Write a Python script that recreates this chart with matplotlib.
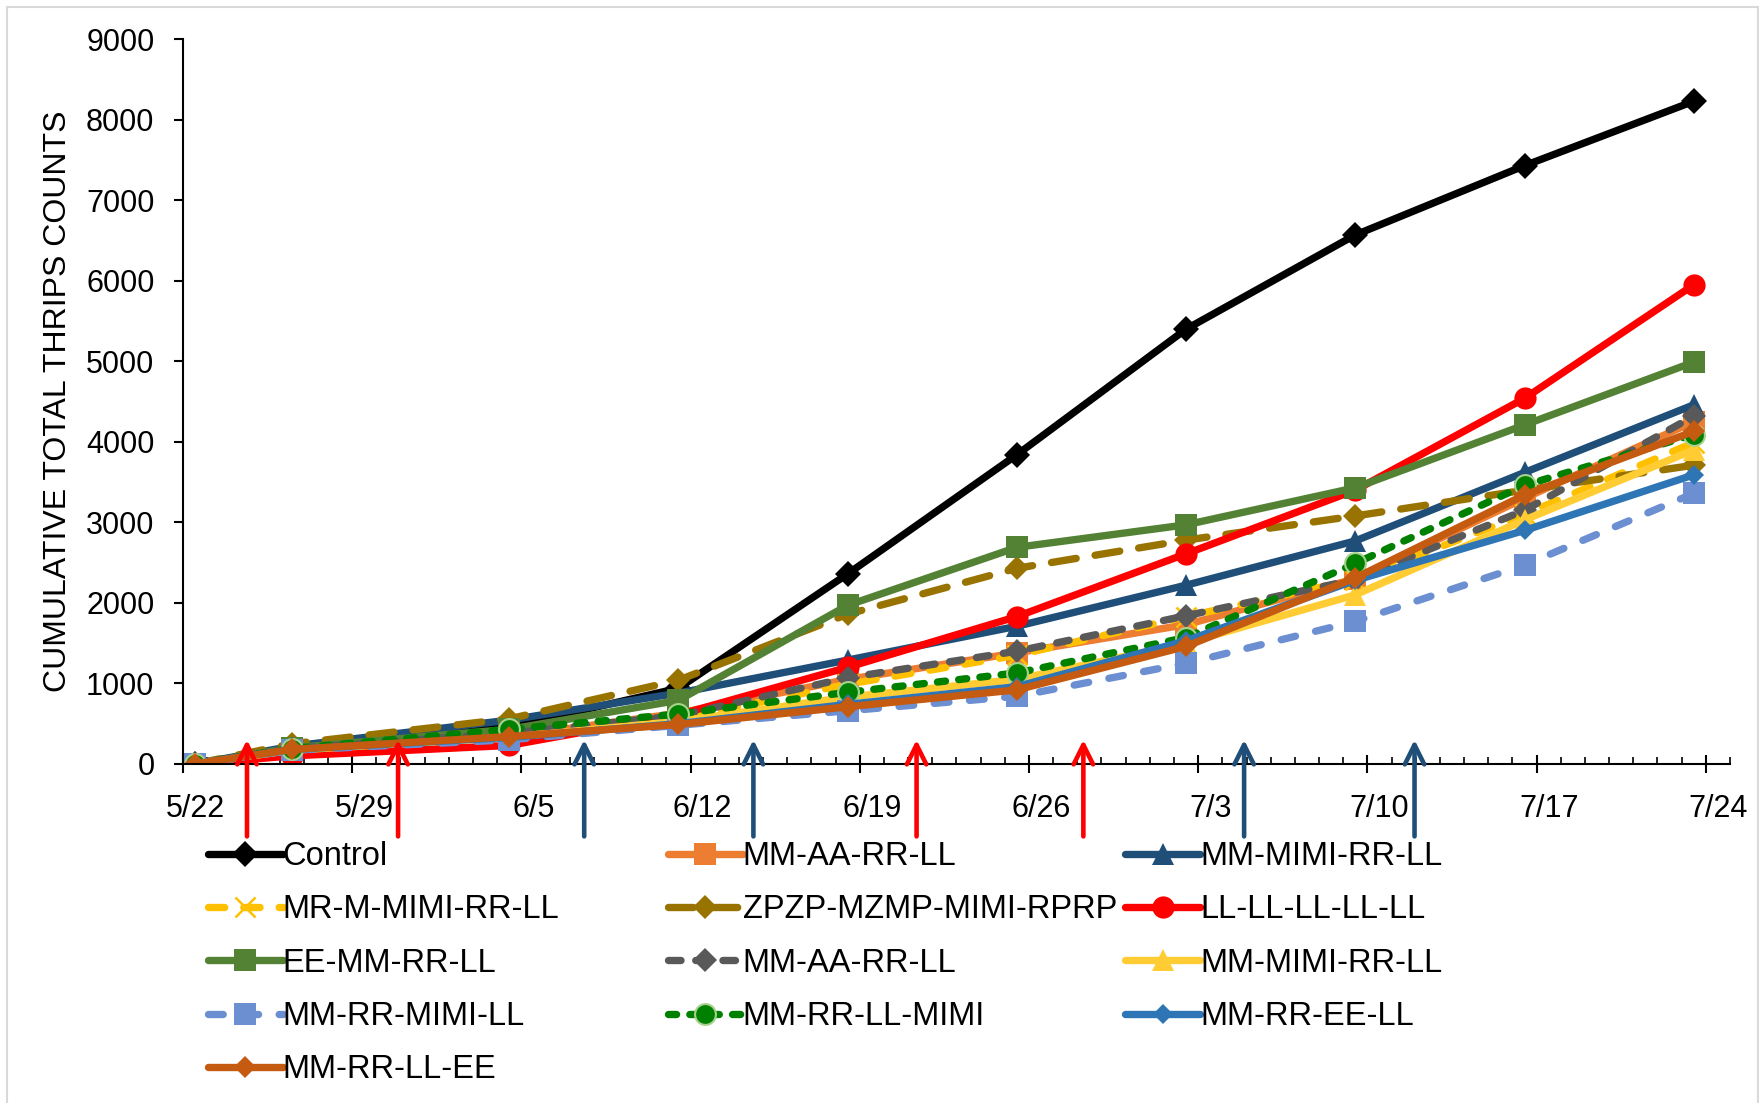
import numpy as np
import matplotlib
matplotlib.use("Agg")
import matplotlib.pyplot as plt
from matplotlib.patches import Rectangle

plt.rcParams['font.family'] = ['Liberation Sans', 'DejaVu Sans']

# sampling days, counted from 5/22 (points sit in the middle of the day slot)
sample_days = [0, 4, 13, 20, 27, 34, 41, 48, 55, 62]

tick_days = [0, 7, 14, 21, 28, 35, 42, 49, 56, 63]
tick_labels = ["5/22", "5/29", "6/5", "6/12", "6/19", "6/26", "7/3", "7/10", "7/17", "7/24"]

names = [
    "Control", "MM-AA-RR-LL", "MM-MIMI-RR-LL",
    "MR-M-MIMI-RR-LL", "ZPZP-MZMP-MIMI-RPRP", "LL-LL-LL-LL-LL",
    "EE-MM-RR-LL", "MM-AA-RR-LL", "MM-MIMI-RR-LL",
    "MM-RR-MIMI-LL", "MM-RR-LL-MIMI", "MM-RR-EE-LL",
    "MM-RR-LL-EE",
]

control = [0, 200, 460, 940, 2360, 3840, 5400, 6570, 7430, 8230]
mm_aa_rr_ll = [0, 180, 340, 630, 1050, 1380, 1730, 2300, 3300, 4250]
mm_mimi_rr_ll = [0, 220, 545, 880, 1290, 1710, 2220, 2770, 3620, 4460]
mr_m_mimi = [0, 170, 300, 560, 990, 1350, 1830, 2290, 3100, 3990]
zpzp = [0, 250, 560, 1040, 1860, 2430, 2780, 3080, 3400, 3710]
ll_all = [0, 100, 230, 610, 1200, 1830, 2610, 3400, 4540, 5950]
ee_mm_rr_ll = [0, 200, 430, 790, 1970, 2690, 2970, 3430, 4210, 4990]
mm_aa_rr_ll_2 = [0, 190, 380, 600, 1070, 1400, 1840, 2290, 3150, 4320]
mm_mimi_rr_ll_2 = [0, 170, 330, 530, 830, 1050, 1500, 2100, 3030, 3900]
mm_rr_mimi_ll = [0, 170, 300, 480, 660, 840, 1250, 1770, 2470, 3360]
mm_rr_ll_mimi = [0, 190, 430, 620, 890, 1130, 1570, 2490, 3460, 4090]
mm_rr_ee_ll = [0, 180, 330, 500, 740, 960, 1530, 2280, 2900, 3590]
mm_rr_ll_ee = [0, 180, 340, 490, 710, 920, 1460, 2310, 3340, 4130]

series = [control, mm_aa_rr_ll, mm_mimi_rr_ll, mr_m_mimi, zpzp, ll_all,
          ee_mm_rr_ll, mm_aa_rr_ll_2, mm_mimi_rr_ll_2, mm_rr_mimi_ll,
          mm_rr_ll_mimi, mm_rr_ee_ll, mm_rr_ll_ee]

# treatment arrows (days from 5/22)
red_arrows = [2.65, 8.9, 30.35, 37.25]
blue_arrows = [16.6, 23.6, 43.9, 50.95]

# color, linestyle, marker, markersize, marker edge color
styles = [
    ("#000000", "-", "D", 13, None),
    ("#ED7D31", "-", "s", 16, None),
    ("#1F4E79", "-", "^", 16, None),
    ("#FFC000", (0, (2.2, 2.6)), "x", 14, None),
    ("#997300", (0, (3.4, 2.6)), "D", 12.5, None),
    ("#FF0000", "-", "o", 16, None),
    ("#548235", "-", "s", 16.5, None),
    ("#595959", (0, (1.7, 2.0)), "D", 12, None),
    ("#FFCD33", "-", "^", 16, None),
    ("#6C8FD2", (0, (2.0, 2.8)), "s", 16, None),
    ("#008000", (0, (1.1, 1.8)), "o", 15, "#A9D18E"),
    ("#2E75B6", "-", "D", 10.5, None),
    ("#C55A11", "-", "D", 11, None),
]

fig = plt.figure(figsize=(17.59, 11.03), dpi=100)
ax = fig.add_axes([0.104, 0.3074, 0.8795, 0.657])

x = np.array(sample_days) + 0.5
handles = []
for name, vals, (col, ls, mk, ms, mec) in zip(names, series, styles):
    kw = dict(color=col, lw=5.3, marker=mk, markersize=ms, label=name,
              dash_capstyle="round", solid_capstyle="round",
              markeredgecolor=mec if mec else col, linestyle=ls)
    if mk == "x":
        kw["markeredgewidth"] = 1.8
    else:
        kw["markeredgewidth"] = 1.5 if mec else 0
    line, = ax.plot(x, vals, **kw)
    handles.append(line)

ax.set_xlim(0, 64)
ax.set_ylim(0, 9000)
ax.set_yticks(np.arange(0, 9001, 1000))
ax.set_xticks(tick_days)
ax.set_xticks(np.arange(0, 65, 1), minor=True)
ax.tick_params(axis="x", which="major", direction="inout", length=13.5, width=1.5,
               labelbottom=False)
ax.tick_params(axis="x", which="minor", direction="in", length=5, width=1.2)
ax.tick_params(axis="y", which="major", direction="out", length=6.5, width=1.5,
               labelsize=22, pad=14)
for s in ["top", "right"]:
    ax.spines[s].set_visible(False)
for s in ["left", "bottom"]:
    ax.spines[s].set_linewidth(1.5)

# date labels centred in the day slot
sec = ax.secondary_xaxis("bottom")
sec.set_xticks([d + 0.5 for d in tick_days], tick_labels)
sec.tick_params(length=0, labelsize=22, pad=22)
sec.spines["bottom"].set_visible(False)

fig.text(58.3 / 1759, 1 - 401 / 1103, "CUMULATIVE TOTAL THRIPS COUNTS",
         rotation=90, ha="center", va="center", fontsize=23)

for xa in red_arrows:
    ax.annotate("", xy=(xa, 300), xytext=(xa, -900), annotation_clip=False,
                arrowprops=dict(arrowstyle="->,head_length=0.7,head_width=0.35",
                                color="#FF0000", lw=3.3, mutation_scale=20,
                                shrinkA=0, shrinkB=0))
for xa in blue_arrows:
    ax.annotate("", xy=(xa, 300), xytext=(xa, -900), annotation_clip=False,
                arrowprops=dict(arrowstyle="->,head_length=0.7,head_width=0.35",
                                color="#1F4E79", lw=3.3, mutation_scale=20,
                                shrinkA=0, shrinkB=0))

# legend: three columns filled row by row
col_x = [207.5 / 1759, 667.5 / 1759, 1125 / 1759]
for c in range(3):
    idx = list(range(c, len(handles), 3))
    fig.legend([handles[i] for i in idx], [names[i] for i in idx],
               loc="upper left", bbox_to_anchor=(col_x[c], 1 - 841 / 1103),
               bbox_transform=fig.transFigure, frameon=False, fontsize=23.5,
               borderpad=0, borderaxespad=0, handlelength=2.3,
               handletextpad=0.0, labelspacing=0.685)

fig.patches.append(Rectangle((7 / 1759, -0.01), 1751 / 1759, 1.01 - 7 / 1103,
                             transform=fig.transFigure, fill=False,
                             edgecolor="#D9D9D9", lw=1.5))

fig.savefig("out.png", dpi=100, facecolor="white")
